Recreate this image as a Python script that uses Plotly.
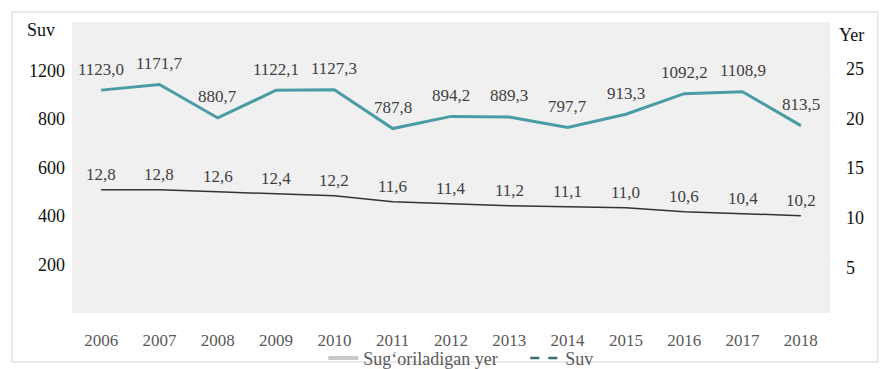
import plotly.graph_objects as go

# Yillar
years = ["2006", "2007", "2008", "2009", "2010", "2011", "2012",
         "2013", "2014", "2015", "2016", "2017", "2018"]

# Suv (chap o'q)
suv = [1123.0, 1171.7, 880.7, 1122.1, 1127.3, 787.8, 894.2,
       889.3, 797.7, 913.3, 1092.2, 1108.9, 813.5]

# Sug'oriladigan yer (o'ng o'q)
yer = [12.8, 12.8, 12.6, 12.4, 12.2, 11.6, 11.4,
       11.2, 11.1, 11.0, 10.6, 10.4, 10.2]

left_tickvals = [200, 400, 600, 800, 1000]
left_ticktext = ["200", "400", "600", "800", "1200"]
right_tickvals = [5, 10, 15, 20, 25]

FONT = "Liberation Serif, Times New Roman, serif"
TEAL = "#4a9ca4"
LABEL = "#404040"


def fmt(v):
    return f"{v:.1f}".replace(".", ",")


fig = go.Figure()

fig.add_trace(go.Scatter(
    x=years, y=suv, yaxis="y3", mode="lines",
    line=dict(color=TEAL, width=3), showlegend=False,
))

fig.add_trace(go.Scatter(
    x=years, y=yer, yaxis="y2", mode="lines",
    line=dict(color="#333333", width=1.5), showlegend=False,
))

# Legend entries
fig.add_trace(go.Scatter(
    x=[None], y=[None], mode="lines", name="Sug\u2018oriladigan yer",
    line=dict(color="#c8c8c8", width=4),
))
fig.add_trace(go.Scatter(
    x=[None], y=[None], mode="lines", name="Suv",
    line=dict(color="#3f6a6e", width=2.5, dash="dash"),
))

# Data labels above each point (x given as category index)
annotations = []
for i, v in enumerate(suv):
    annotations.append(dict(
        x=i, y=v, xref="x", yref="y3", text=fmt(v), showarrow=False,
        xanchor="center", yanchor="middle", yshift=21,
        font=dict(family=FONT, size=17, color=LABEL),
    ))
for i, v in enumerate(yer):
    annotations.append(dict(
        x=i, y=v, xref="x", yref="y2", text=fmt(v), showarrow=False,
        xanchor="center", yanchor="middle", yshift=15,
        font=dict(family=FONT, size=17, color=LABEL),
    ))

# Axis captions
annotations += [
    dict(text="Suv", xref="paper", yref="paper", x=-0.041, y=0.9725,
         xanchor="center", yanchor="middle", showarrow=False,
         font=dict(family=FONT, size=18, color="#111111")),
    dict(text="Yer", xref="paper", yref="paper", x=1.029, y=0.955,
         xanchor="center", yanchor="middle", showarrow=False,
         font=dict(family=FONT, size=18, color="#111111")),
]

fig.update_layout(
    width=886, height=369,
    margin=dict(l=72, r=56, t=22, b=56, autoexpand=False),
    paper_bgcolor="white",
    plot_bgcolor="#f0f0f0",
    font=dict(family=FONT, size=17, color="#111111"),
    xaxis=dict(
        type="category", range=[-0.5, 12.5],
        showgrid=False, zeroline=False, showline=False,
        tickfont=dict(family=FONT, size=17, color="#595959"),
        ticklabelstandoff=15,
    ),
    yaxis=dict(
        range=[0, 1200], tickvals=left_tickvals, ticktext=left_ticktext,
        showgrid=False, zeroline=False, showline=False,
        tickfont=dict(family=FONT, size=18, color="#111111"),
        ticklabelstandoff=6,
    ),
    yaxis2=dict(
        range=[0.4, 29.7], tickvals=right_tickvals, overlaying="y", side="right",
        showgrid=False, zeroline=False, showline=False,
        tickfont=dict(family=FONT, size=18, color="#111111"),
        ticklabelstandoff=15,
    ),
    yaxis3=dict(range=[-820, 1717], overlaying="y", visible=False),
    legend=dict(
        orientation="h", x=0.598, xanchor="center",
        yref="container", y=0.029, yanchor="middle",
        font=dict(family=FONT, size=18, color="#595959"),
        bgcolor="rgba(0,0,0,0)", itemwidth=30,
        entrywidth=157, entrywidthmode="pixels",
    ),
    annotations=annotations,
    shapes=[
        dict(type="rect", xref="paper", yref="paper",
             x0=-0.079, x1=1.063, y0=-0.168, y1=1.034,
             line=dict(color="#e2e2e2", width=1.5), layer="below"),
    ],
)

fig.write_html("out.html")
